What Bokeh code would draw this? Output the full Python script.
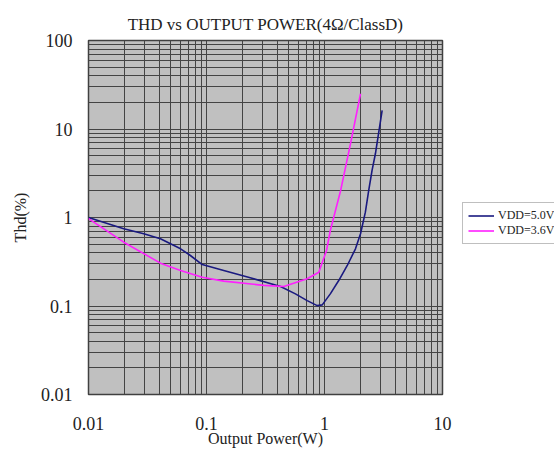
from bokeh.plotting import figure
from bokeh.models import FixedTicker, Legend, LegendItem, Range1d
from bokeh.embed import file_html
from bokeh.resources import INLINE

title_text = "THD vs OUTPUT POWER(4Ω/ClassD)"
x_label = "Output Power(W)"
y_label = "Thd(%)"

x_ticks = [0.01, 0.1, 1, 10]
x_tick_labels = ["0.01", "0.1", "1", "10"]
y_ticks = [0.01, 0.1, 1, 10, 100]
y_tick_labels = ["0.01", "0.1", "1", "10", "100"]

# VDD=5.0V
p5_power = [0.01, 0.0199, 0.0294, 0.0407, 0.0603, 0.073, 0.092, 0.140, 0.252, 0.424, 0.567, 0.713, 0.867, 0.957,
            1.12, 1.32, 1.56, 1.83, 2.02, 2.22, 2.37, 2.53, 2.70, 3.08]
p5_thd = [1.0, 0.745, 0.655, 0.574, 0.443, 0.372, 0.294, 0.252, 0.203, 0.166, 0.137, 0.115, 0.101, 0.103,
          0.137, 0.194, 0.287, 0.443, 0.655, 1.15, 2.02, 3.4, 5.25, 16.2]
# VDD=3.6V
p36_power = [0.01, 0.0199, 0.0407, 0.0603, 0.092, 0.140, 0.306, 0.452, 0.713, 0.895, 1.04, 1.12, 1.37, 1.66, 2.02]
p36_thd = [0.97, 0.526, 0.305, 0.252, 0.211, 0.191, 0.171, 0.166, 0.203, 0.241, 0.424, 0.713, 2.02, 6.8, 25.0]

minor_x = [m * d for d in [0.01, 0.1, 1] for m in range(2, 10)]
minor_y = [m * d for d in [0.01, 0.1, 1, 10] for m in range(2, 10)]

FONT = "Liberation Serif"

p = figure(frame_width=354, frame_height=354, x_axis_type="log", y_axis_type="log",
           x_range=Range1d(0.01, 10), y_range=Range1d(0.01, 100),
           output_backend="svg", toolbar_location=None,
           min_border_left=88, min_border_right=112, min_border_top=40, min_border_bottom=54)

p.title.text = title_text
p.title.align = "center"
p.title.text_font = FONT
p.title.text_font_size = "17px"
p.title.text_font_style = "normal"
p.title.text_color = "#222222"
p.title.standoff = 13

p.background_fill_color = "#c0c0c0"
p.border_fill_color = "white"
p.outline_line_color = "#404040"
p.outline_line_width = 1.5

p.xaxis.ticker = FixedTicker(ticks=x_ticks, minor_ticks=minor_x)
p.yaxis.ticker = FixedTicker(ticks=y_ticks, minor_ticks=minor_y)
p.xaxis.major_label_overrides = {t: l for t, l in zip(x_ticks, x_tick_labels)}
p.yaxis.major_label_overrides = {t: l for t, l in zip(y_ticks, y_tick_labels)}

for ax in (p.xaxis[0], p.yaxis[0]):
    ax.axis_line_color = None
    ax.major_tick_line_color = None
    ax.minor_tick_line_color = None
    ax.major_label_text_font = FONT
    ax.major_label_text_font_size = "18px"
    ax.major_label_text_color = "#222222"
    ax.axis_label_text_font = FONT
    ax.axis_label_text_font_size = "16px"
    ax.axis_label_text_font_style = "normal"
    ax.axis_label_text_color = "#222222"

p.xaxis.axis_label = x_label
p.yaxis.axis_label = y_label
p.xaxis.major_label_standoff = 16
p.xaxis.axis_label_standoff = -3
p.yaxis.major_label_standoff = 10
p.yaxis.axis_label_standoff = 9

for g in (p.xgrid[0], p.ygrid[0]):
    g.grid_line_color = "#444444"
    g.grid_line_width = 1
    g.minor_grid_line_color = "#444444"
    g.minor_grid_line_width = 1

r5 = p.line(p5_power, p5_thd, line_color="#1a1a80", line_width=1.6)
r36 = p.line(p36_power, p36_thd, line_color="#ff20ff", line_width=1.6)

legend = Legend(items=[LegendItem(label="VDD=5.0V", renderers=[r5]),
                       LegendItem(label="VDD=3.6V", renderers=[r36])],
                location=(20, 150))
legend.label_text_font = FONT
legend.label_text_font_size = "12px"
legend.label_text_color = "#222222"
legend.glyph_width = 26
legend.glyph_height = 11
legend.label_height = 11
legend.label_standoff = 4
legend.padding = 5
legend.spacing = 0
legend.margin = 0
legend.border_line_color = "#808080"
legend.border_line_width = 1
legend.background_fill_color = "white"
legend.background_fill_alpha = 1
p.add_layout(legend, "right")

open("out.html", "w").write(file_html(p, INLINE))
